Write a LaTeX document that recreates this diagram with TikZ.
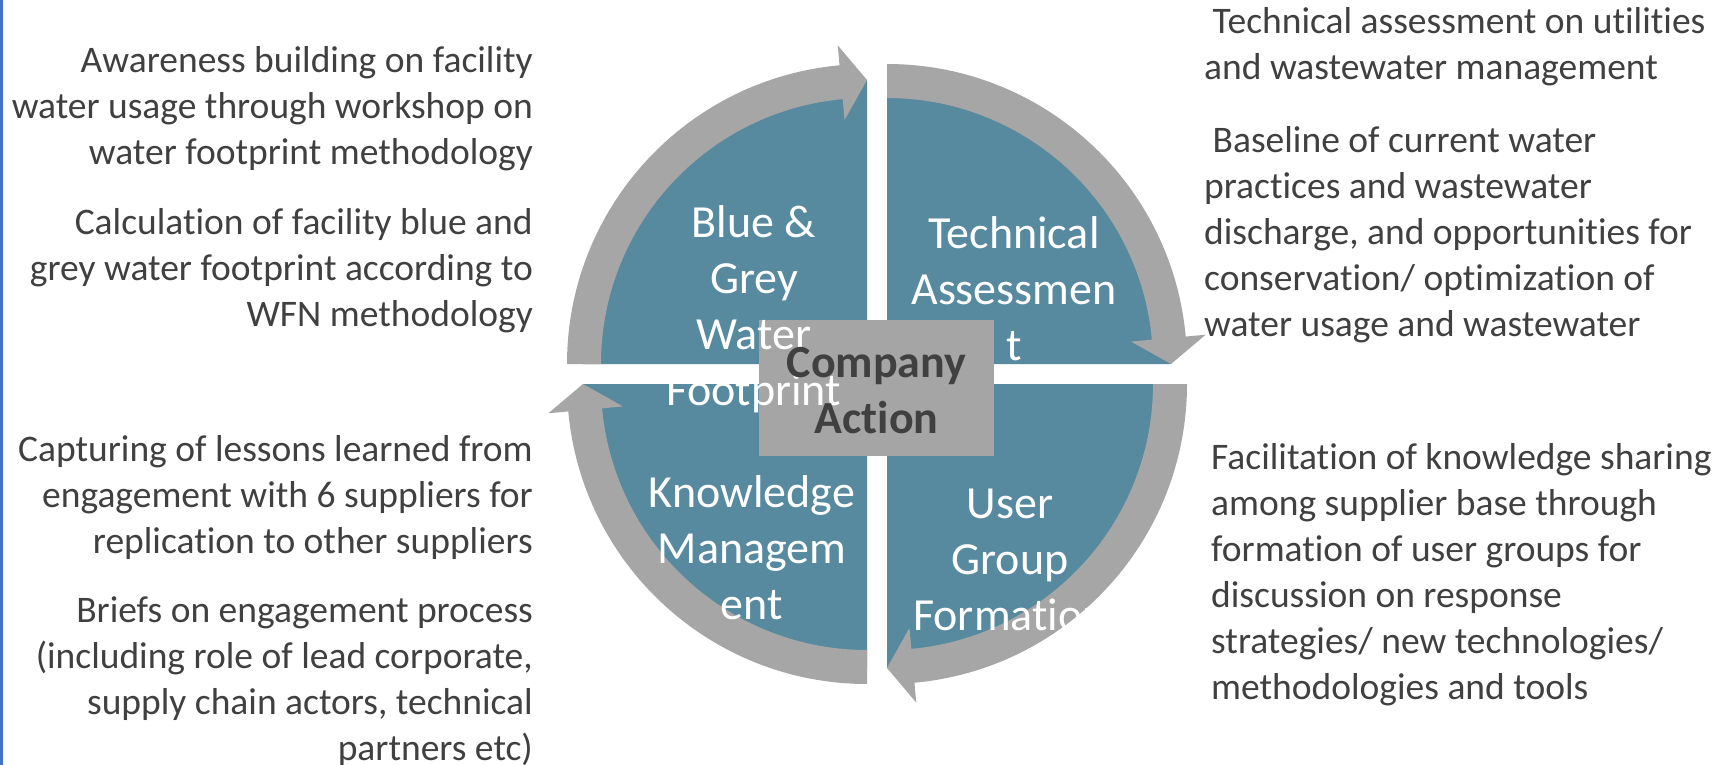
\documentclass[tikz,border=0pt]{standalone}
\usepackage{fontspec}
\setmainfont{Carlito}[Ligatures={NoCommon}]
\definecolor{tealq}{RGB}{87,137,159}
\definecolor{ringgray}{RGB}{166,166,166}
\definecolor{boxgray}{RGB}{165,165,165}
\definecolor{txtgray}{RGB}{64,64,64}
\definecolor{leftblue}{RGB}{68,114,196}
\tikzset{
  sidetxt/.style={text=txtgray, font=\fontsize{37.5}{46}\selectfont, inner sep=0pt},
  lefttxt/.style={sidetxt, align=right, anchor=east},
  righttxt/.style={sidetxt, align=left, anchor=west},
  quadtxt/.style={text=white, font=\fontsize{46}{56}\selectfont, align=center, inner sep=0pt},
  centertxt/.style={text=txtgray, font=\bfseries\fontsize{46}{56}\selectfont, align=center, inner sep=0pt},
  cbox/.style={fill=boxgray, minimum width=235pt, minimum height=136pt, inner sep=0pt},
  quad/.style={fill=tealq},
  ringarrow/.style={fill=ringgray}
}
\begin{document}
\begin{tikzpicture}[x=1pt,y=1pt]
\useasboundingbox (0,0) rectangle (1727,-765);
\fill[white] (0,0) rectangle (1727,-765);
\fill[leftblue] (0,0) rectangle (3,-765);
% teal quadrants
\foreach \cx/\cy/\a in {867/364/180, 887/364/90, 887/384/0, 867/384/-90} {
  \begin{scope}[shift={(\cx,-\cy)}]
    \fill[quad] (0,0) -- (\a:284) arc[start angle=\a, end angle=\a-90, radius=284] -- cycle;
  \end{scope}
}
% ring arrows
\foreach \cx/\cy/\a in {867/364/180, 887/364/90, 887/384/0, 867/384/-90} {
  \begin{scope}[shift={(\cx,-\cy)}]
    \fill[ringarrow] (\a:300) arc[start angle=\a, end angle=\a-84.75, radius=300]
      -- (\a-84.75:320) -- (\a-90:284) -- (\a-84.75:245) -- (\a-84.75:266)
      arc[start angle=\a-84.75, end angle=\a, radius=266] -- cycle;
  \end{scope}
}
% centre box
\node[cbox] (cb) at (876.5,-388) {};
% quadrant labels
\node[quadtxt] (q1) at (754,-309) {Blue \&\\Grey\\Water\\Footprint};
\node[quadtxt] (q2) at (1014,-289) {Technical\\Assessmen\\t};
\node[quadtxt] (q3) at (752,-548) {Knowledge\\Managem\\ent};
\node[quadtxt] (q4) at (1010,-560) {User\\Group\\Formation};
% centre label
\node[centertxt] (ca) at (876.5,-391) {Company\\Action};
% left texts
\node[lefttxt] (l1) at (533,-109) {Awareness building on facility\\water usage through workshop on\\water footprint methodology};
\node[lefttxt] (l2) at (533,-271) {Calculation of facility blue and\\grey water footprint according to\\WFN methodology};
\node[lefttxt] (l3) at (533,-497) {Capturing of lessons learned from\\engagement with 6 suppliers for\\replication to other suppliers};
\node[lefttxt] (l4) at (533,-682) {Briefs on engagement process\\(including role of lead corporate,\\supply chain actors, technical\\partners etc)};
% right texts
\node[righttxt] (r1) at (1204,-47) {~Technical assessment on utilities\\and wastewater management};
\node[righttxt] (r2) at (1204,-235) {~Baseline of current water\\practices and wastewater\\discharge, and opportunities for\\conservation/ optimization of\\water usage and wastewater};
\node[righttxt] (r3) at (1211,-575) {Facilitation of knowledge sharing\\among supplier base through\\formation of user groups for\\discussion on response\\strategies/ new technologies/\\methodologies and tools};
\end{tikzpicture}
\end{document}
